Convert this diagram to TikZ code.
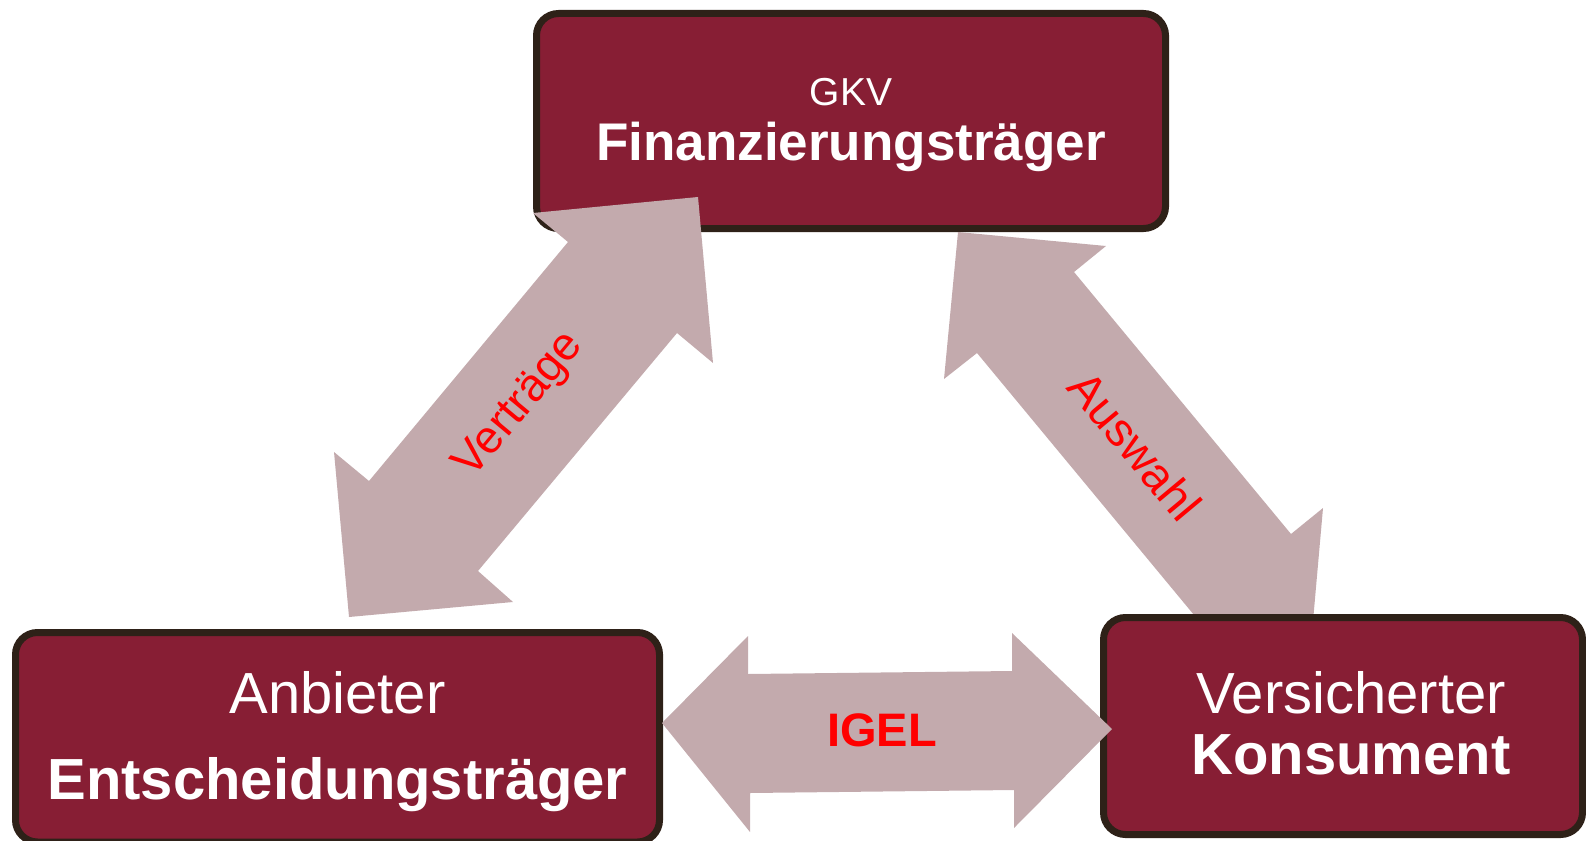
\documentclass[tikz,border=0pt]{standalone}
\usepackage{fontspec}
\setmainfont{Liberation Sans}
\definecolor{boxfill}{RGB}{135,30,52}
\definecolor{boxline}{RGB}{46,33,24}
\definecolor{arrowfill}{RGB}{195,170,173}
\definecolor{labelred}{RGB}{255,0,0}
\begin{document}
\begin{tikzpicture}[x=1pt,y=-1pt,
  box/.style={draw=boxline, fill=boxfill, line width=7pt, rounded corners=22pt, rectangle, inner sep=0pt},
  blockarrow/.style={fill=arrowfill},
  boxtext/.style={text=white, anchor=base, inner sep=0pt},
  arrowlabel/.style={text=labelred, inner sep=0pt}]
\useasboundingbox (0,0) rectangle (1586,840);
% top box
\node[box, minimum width=629pt, minimum height=215pt] (fin) at (851,121) {};
\node[boxtext, font=\fontsize{39}{45}\selectfont] (gkv) at (851,106) {GKV};
\node[boxtext, font=\fontsize{53}{60}\selectfont\bfseries] (fint) at (851,160) {Finanzierungsträger};
% Vertraege arrow (over top box)
\fill[blockarrow] (698,197) -- (713,363) -- (677,333) -- (478,571) -- (513,602) -- (349,617) -- (334,452) -- (369,481) -- (568,242) -- (533,213) -- cycle;
% Auswahl arrow (under bottom right box)
\fill[blockarrow] (958,232) -- (1106,246) -- (1074,272) -- (1291,534) -- (1323,508) -- (1310,655) -- (1162,641) -- (1194,615) -- (977,353) -- (944,379) -- cycle;
% bottom boxes
\node[box, minimum width=644pt, minimum height=209.5pt] (anb) at (337.5,737.25) {};
\node[boxtext, font=\fontsize{58}{66}\selectfont] (anbt) at (337.5,713) {Anbieter};
\node[boxtext, font=\fontsize{58}{66}\selectfont\bfseries] (entt) at (337.5,799) {Entscheidungsträger};
\node[box, minimum width=479pt, minimum height=217pt] (ver) at (1343,726) {};
\node[boxtext, font=\fontsize{58}{66}\selectfont] (vert) at (1351,713) {Versicherter};
\node[boxtext, font=\fontsize{58}{66}\selectfont\bfseries] (kont) at (1351,774) {Konsument};
% IGEL arrow
\fill[blockarrow] (662,723) -- (748,636) -- (748,674) -- (1012,671) -- (1012,633) -- (1112,729) -- (1014,828) -- (1014,790) -- (750,793) -- (750,832) -- cycle;
% labels
\node[arrowlabel, rotate=50.2, font=\fontsize{46}{52}\selectfont] (lvert) at (520,406) {Verträge};
\node[arrowlabel, rotate=-50.2, font=\fontsize{47}{54}\selectfont] (lausw) at (1135,446) {Auswahl};
\node[arrowlabel, anchor=base, font=\fontsize{47}{54}\selectfont\bfseries] (ligel) at (882,746) {IGEL};
\end{tikzpicture}
\end{document}
